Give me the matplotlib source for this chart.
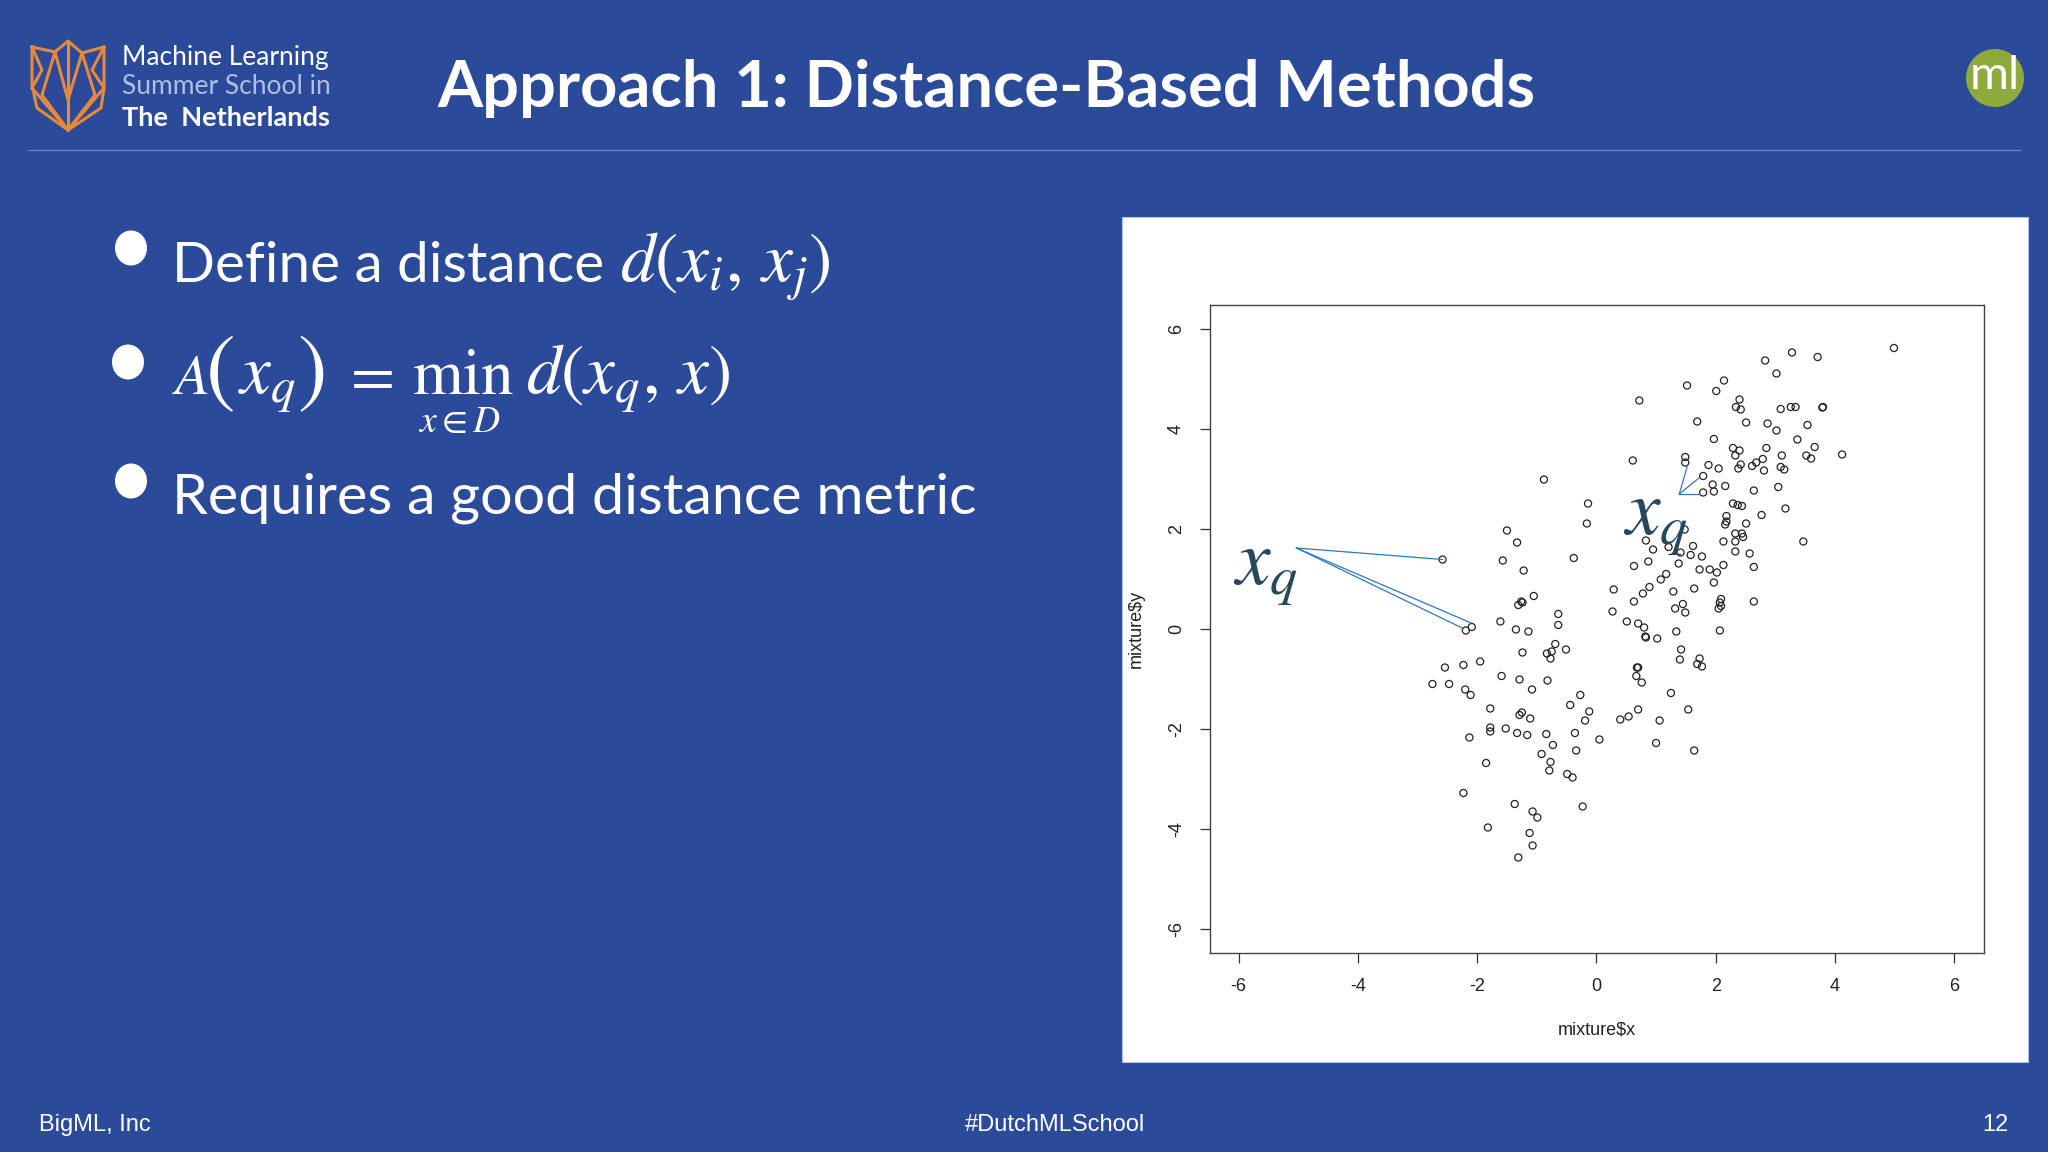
import matplotlib
matplotlib.use('Agg')
import matplotlib.pyplot as plt
from matplotlib.patches import Rectangle, Circle, Ellipse

W, H = 2048, 1152
BG = '#2B4A9A'

plt.rcParams['mathtext.fontset'] = 'stix'
plt.rcParams['axes.unicode_minus'] = False

title = 'Approach 1: Distance-Based Methods'
bullet_one = 'Define a distance'
bullet_one_math = r'$d(x_i,\,x_j)$'
bullet_three = 'Requires a good distance metric'
logo_lines = ['Machine Learning', 'Summer School in', 'The  Netherlands']
footer = ['BigML, Inc', '#DutchMLSchool', '12']

# points
mix_x = [4.99, 3.28, 3.71, 2.83, 3.02, 2.14, 1.52, 2.01, 0.72, 2.40, 2.34, 2.42, 3.09, 3.26, 3.34, 3.79, 3.80,
         1.69, 2.51, 2.87, 3.02, 3.54, 1.97, 3.37, 2.29, 2.40, 2.85, 3.66, 4.12, 2.33, 3.11, 3.52, 3.60, 1.49,
         1.49, 0.61, 2.79, 2.68, 2.61, 2.42, 2.38, 3.09, 3.15, 2.81, 1.88, 2.05, 1.79, 1.95, 2.16, 1.97, 1.79,
         2.64, 3.05, 2.29, 2.37, 2.44, 3.17, 2.77, 2.18, 2.18, 2.16, 2.51, 2.33, 2.44, 2.46, 2.33, 2.13, 3.47,
         2.33, 2.57, 2.64, 2.13, 2.02, 1.90, 1.73, 1.97, 1.64, 2.09, 2.07, 2.09, 2.05, 2.64, 1.62, 1.58, 1.77,
         1.38, 1.48, 1.21, 1.41, 0.83, 0.95, 0.87, 0.63, 1.17, 1.08, 0.89, 0.78, 1.29, 0.63, 0.29, 0.27, 1.45,
         1.32, 1.49,
         -2.19, -2.09, -1.61, -1.35, -1.14, -1.31, -1.24, -0.64, -0.64, -0.69, -0.75, -0.83, -0.77, -0.51, -1.24,
         -1.95, -2.23, -2.54, -2.75, -2.47, -2.20, -2.11, -1.59, -1.29, -1.08, -0.82, -0.27, -0.44, -0.12, -0.19,
         -1.78, -1.25, -1.29, -1.11, -1.78, -1.78, -1.52, -1.33, -1.16, -0.84, -0.36, 0.05, -0.34, -0.73, -0.92,
         -0.77, -0.79, -0.49, -0.40, -2.13, -1.85, -2.23, -1.37, -1.07, -0.99, -0.23, -1.82, -1.12, -1.07, -1.31,
         0.51, 0.70, 0.80, 0.82, 0.83, 1.02, 1.34, 1.42, 1.40, 1.73, 1.69, 1.77, 2.07, 0.68, 0.70, 0.67, 0.76,
         1.25, 0.70, 0.54, 0.40, 1.54, 1.06, 1.00, 1.64,
         -2.58, -0.88, -0.14, -0.16, -1.50, -1.33, -1.57, -1.22, -0.38, -1.05, -1.26]
mix_y = [5.62, 5.53, 5.44, 5.37, 5.11, 4.97, 4.87, 4.76, 4.57, 4.59, 4.44, 4.39, 4.40, 4.44, 4.44, 4.43, 4.44,
         4.15, 4.13, 4.11, 3.97, 4.08, 3.80, 3.79, 3.62, 3.57, 3.62, 3.64, 3.49, 3.47, 3.47, 3.47, 3.41, 3.44,
         3.33, 3.37, 3.40, 3.33, 3.26, 3.29, 3.21, 3.24, 3.19, 3.17, 3.28, 3.21, 3.06, 2.89, 2.86, 2.75, 2.73,
         2.77, 2.84, 2.51, 2.48, 2.46, 2.41, 2.28, 2.26, 2.15, 2.09, 2.11, 1.91, 1.91, 1.84, 1.75, 1.75, 1.75,
         1.55, 1.51, 1.24, 1.28, 1.13, 1.19, 1.19, 0.93, 0.81, 0.60, 0.53, 0.46, 0.41, 0.55, 1.66, 1.48, 1.45,
         1.31, 1.99, 1.64, 1.53, 1.77, 1.59, 1.35, 1.26, 1.10, 0.99, 0.84, 0.71, 0.75, 0.55, 0.79, 0.35, 0.50,
         0.41, 0.33,
         -0.03, 0.04, 0.15, -0.01, -0.05, 0.48, 0.53, 0.30, 0.08, -0.30, -0.45, -0.49, -0.59, -0.41, -0.47,
         -0.65, -0.72, -0.77, -1.10, -1.10, -1.21, -1.32, -0.94, -1.01, -1.21, -1.03, -1.32, -1.52, -1.65, -1.83,
         -1.59, -1.67, -1.72, -1.79, -1.97, -2.05, -1.99, -2.08, -2.12, -2.10, -2.08, -2.21, -2.43, -2.32, -2.50,
         -2.66, -2.83, -2.90, -2.97, -2.17, -2.68, -3.28, -3.50, -3.65, -3.77, -3.55, -3.97, -4.08, -4.33, -4.57,
         0.15, 0.11, 0.03, -0.15, -0.17, -0.19, -0.05, -0.41, -0.61, -0.59, -0.70, -0.75, -0.03, -0.77, -0.77,
         -0.94, -1.07, -1.28, -1.61, -1.75, -1.81, -1.61, -1.83, -2.28, -2.43,
         1.39, 2.99, 2.51, 2.11, 1.97, 1.73, 1.37, 1.17, 1.42, 0.66, 0.55]

# neighbour lines drawn on top of the scatter
far_query = (-5.03, 1.62)
far_neighbours = [(-2.58, 1.39), (-2.10, 0.12), (-2.25, 0.02)]
near_query = (1.39, 2.70)
near_neighbours = [(1.53, 3.28), (1.74, 3.04), (1.74, 2.70)]

ticks = [-6, -4, -2, 0, 2, 4, 6]

# logo outline, traced in picture pixels
logo_segments = [
    [(32, 47), (55, 52), (68, 41), (82, 53), (104, 47), (104, 88), (101, 108), (68, 130), (37, 108), (32, 85), (32, 47)],
    [(32, 47), (42, 70), (32, 88)],
    [(104, 47), (92, 70), (104, 88)],
    [(68, 41), (68, 130)],
    [(55, 52), (42, 95), (68, 130)],
    [(82, 53), (95, 95), (68, 130)],
    [(55, 52), (68, 100), (82, 53)],
    [(32, 88), (68, 130), (104, 88)],
]

# second bullet is set piece by piece: x position, baseline, text, size
formula_parts = [(172, 394, '$A$', 41), (205, 396, '$($', 64), (238, 394, '$x_q$', 50), (297, 396, '$)$', 64),
                 (341, 394, '$=$', 46), (412, 394, r'$\mathrm{min}$', 47), (526, 394, r'$d(x_q,\,x)$', 50)]
formula_under = r'$x\in D$'

fig = plt.figure(figsize=(W / 100, H / 100), dpi=100, facecolor=BG)

slide = fig.add_axes([0, 0, 1, 1])
slide.set_xlim(0, W)
slide.set_ylim(H, 0)
slide.axis('off')

slide.plot([28, 2020], [150, 150], color='#6E86BE', lw=0.9)
slide.add_patch(Rectangle((1122, 217), 906, 845, facecolor='white', edgecolor='#A9C0E8', lw=0.8))

for seg in logo_segments:
    slide.plot([p[0] for p in seg], [p[1] for p in seg], color='#E6893A', lw=2.2, solid_joinstyle='round')
slide.text(122, 57, logo_lines[0], color='white', family='Lato', fontsize=19, va='center')
slide.text(122, 87, logo_lines[1], color='#AEBFE3', family='Lato', fontsize=19, va='center')
slide.text(122, 118, logo_lines[2], color='white', family='Lato', fontweight='bold', fontsize=19.5, va='center')

slide.text(437, 88, title, color='white', family='Lato', fontweight='bold', fontsize=46.8, va='center')

for (bx, by) in [(131, 248), (128, 362), (131, 481)]:
    slide.add_patch(Ellipse((bx, by), 32, 35, facecolor='white', edgecolor='none'))
slide.text(172, 282, bullet_one, color='white', family='Lato', fontsize=40.8, va='baseline')
slide.text(620, 282, bullet_one_math, color='white', fontsize=50, va='baseline')
for (fx, fy, part, size) in formula_parts:
    slide.text(fx, fy, part, color='white', fontsize=size, va='baseline')
slide.text(418, 432, formula_under, color='white', fontsize=27, va='baseline')
slide.text(172, 513, bullet_three, color='white', family='Lato', fontsize=41.3, va='baseline')

slide.add_patch(Circle((1995, 78), 29, facecolor='#8FAA3C', edgecolor='none'))
slide.text(1995, 76, 'ml', color='white', family='Lato', fontsize=34, ha='center', va='center')

slide.text(39, 1125, footer[0], color='white', family='Liberation Sans', fontsize=17, va='center')
slide.text(1055, 1125, footer[1], color='white', family='Liberation Sans', fontsize=17, ha='center', va='center')
slide.text(2008, 1125, footer[2], color='white', family='Liberation Sans', fontsize=17, ha='right', va='center')

left, right, top, bottom = 1210, 1984, 305, 953
ax = fig.add_axes([left / W, 1 - bottom / H, (right - left) / W, (bottom - top) / H])
ax.scatter(mix_x, mix_y, s=26, facecolors='none', edgecolors='#222222', linewidths=0.9)
ax.set_xlim(-6.48, 6.5)
ax.set_ylim(-6.48, 6.48)
ax.set_xticks(ticks)
ax.set_yticks(ticks)
ax.tick_params(length=7, width=0.9, color='#333333', labelsize=13, labelcolor='#222222', pad=11)
for lab in ax.get_xticklabels() + ax.get_yticklabels():
    lab.set_family('Liberation Sans')
for lab in ax.get_yticklabels():
    lab.set_rotation(90)
    lab.set_va('center')
for sp in ax.spines.values():
    sp.set_color('#444444')
    sp.set_linewidth(1.0)
ax.set_xlabel(r'mixture\$x', fontsize=13, family='Liberation Sans', color='#222222', labelpad=19)
ax.set_ylabel(r'mixture\$y', fontsize=13, family='Liberation Sans', color='#222222', labelpad=17)

for end in far_neighbours:
    ax.plot([far_query[0], end[0]], [far_query[1], end[1]], color='#2F78BE', lw=0.9)
for end in near_neighbours:
    ax.plot([near_query[0], end[0]], [near_query[1], end[1]], color='#2F78BE', lw=0.9)

ax.text(-6.10, 0.9, '$x_q$', color='#27485A', fontsize=56, clip_on=False)
ax.text(0.45, 1.9, '$x_q$', color='#27485A', fontsize=56)

fig.savefig('out.png', dpi=100, facecolor=BG)
